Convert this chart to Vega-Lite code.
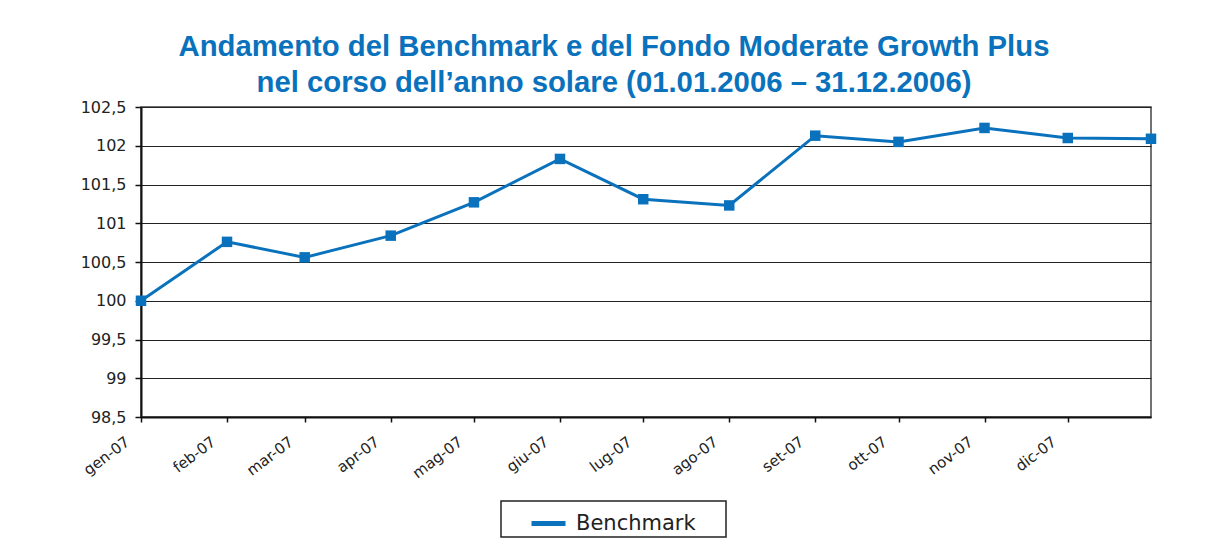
{
  "$schema": "https://vega.github.io/schema/vega-lite/v6.json",
  "width": 1010,
  "height": 310,
  "autosize": {"type": "none"},
  "padding": {"left": 141, "top": 107, "right": 57, "bottom": 135},
  "background": "white",
  "title": {
    "text": ["Andamento del Benchmark e del Fondo Moderate Growth Plus", "nel corso dell’anno solare (01.01.2006 – 31.12.2006)"],
    "anchor": "middle",
    "frame": "group",
    "dx": -32,
    "offset": 1,
    "font": "Liberation Sans",
    "fontSize": 29.3,
    "fontWeight": "bold",
    "lineHeight": 36,
    "color": "#0A72BC"
  },
  "data": {
    "values": [
      {"date": "2007-01-01", "value": 100.0, "serie": "Benchmark"},
      {"date": "2007-02-01", "value": 100.76, "serie": "Benchmark"},
      {"date": "2007-03-01", "value": 100.56, "serie": "Benchmark"},
      {"date": "2007-04-01", "value": 100.84, "serie": "Benchmark"},
      {"date": "2007-05-01", "value": 101.27, "serie": "Benchmark"},
      {"date": "2007-06-01", "value": 101.83, "serie": "Benchmark"},
      {"date": "2007-07-01", "value": 101.31, "serie": "Benchmark"},
      {"date": "2007-08-01", "value": 101.23, "serie": "Benchmark"},
      {"date": "2007-09-01", "value": 102.13, "serie": "Benchmark"},
      {"date": "2007-10-01", "value": 102.05, "serie": "Benchmark"},
      {"date": "2007-11-01", "value": 102.23, "serie": "Benchmark"},
      {"date": "2007-12-01", "value": 102.1, "serie": "Benchmark"},
      {"date": "2007-12-31", "value": 102.09, "serie": "Benchmark"}
    ]
  },
  "mark": {
    "type": "line",
    "strokeWidth": 3,
    "point": {"shape": "square", "size": 110, "filled": true, "opacity": 1}
  },
  "encoding": {
    "x": {
      "field": "date",
      "type": "temporal",
      "scale": {"type": "utc", "domain": [{"year": 2007, "month": 1, "date": 1, "utc": true}, {"year": 2007, "month": 12, "date": 31, "utc": true}], "nice": false},
      "axis": {
        "title": null,
        "grid": false,
        "values": [
          {"year": 2007, "month": 1, "date": 1, "utc": true},
          {"year": 2007, "month": 2, "date": 1, "utc": true},
          {"year": 2007, "month": 3, "date": 1, "utc": true},
          {"year": 2007, "month": 4, "date": 1, "utc": true},
          {"year": 2007, "month": 5, "date": 1, "utc": true},
          {"year": 2007, "month": 6, "date": 1, "utc": true},
          {"year": 2007, "month": 7, "date": 1, "utc": true},
          {"year": 2007, "month": 8, "date": 1, "utc": true},
          {"year": 2007, "month": 9, "date": 1, "utc": true},
          {"year": 2007, "month": 10, "date": 1, "utc": true},
          {"year": 2007, "month": 11, "date": 1, "utc": true},
          {"year": 2007, "month": 12, "date": 1, "utc": true}
        ],
        "labelExpr": "['gen','feb','mar','apr','mag','giu','lug','ago','set','ott','nov','dic'][utcmonth(datum.value)] + '-07'",
        "labelAngle": -37,
        "labelAlign": "right",
        "labelBaseline": "top",
        "labelFont": "DejaVu Sans",
        "labelFontSize": 15,
        "labelColor": "#222222",
        "labelPadding": 12,
        "labelOffset": -18,
        "labelOverlap": false,
        "labelFlush": false,
        "domainColor": "#111111",
        "domainWidth": 2,
        "tickColor": "#111111",
        "tickSize": 5,
        "tickWidth": 1.5
      }
    },
    "y": {
      "field": "value",
      "type": "quantitative",
      "scale": {"domain": [98.5, 102.5], "nice": false, "zero": false},
      "axis": {
        "title": null,
        "values": [98.5, 99, 99.5, 100, 100.5, 101, 101.5, 102, 102.5],
        "labelExpr": "replace(format(datum.value, '.1~f'), '.', ',')",
        "labelFont": "DejaVu Sans",
        "labelFontSize": 16,
        "labelColor": "#222222",
        "labelPadding": 9,
        "gridColor": "#222222",
        "gridWidth": 1.2,
        "gridOpacity": 1,
        "domainColor": "#111111",
        "domainWidth": 2,
        "tickColor": "#111111",
        "tickSize": 6,
        "tickWidth": 1.5
      }
    },
    "color": {
      "field": "serie",
      "type": "nominal",
      "scale": {"range": ["#0A72BC"]},
      "legend": {
        "title": "\u00a0",
        "titleOrient": "right",
        "titlePadding": 27,
        "titleFontSize": 21,
        "orient": "none",
        "legendX": 360,
        "legendY": 394,
        "direction": "horizontal",
        "symbolType": "stroke",
        "symbolSize": 1156,
        "symbolStrokeWidth": 5,
        "symbolOffset": 25,
        "labelFont": "DejaVu Sans",
        "labelFontSize": 21,
        "labelColor": "#222222",
        "labelOffset": 8,
        "strokeColor": "#222222",
        "padding": 3,
        "fillColor": "white",
        "encode": {"legend": {"update": {"strokeWidth": {"value": 1.5}}}}
      }
    }
  },
  "config": {
    "view": {"stroke": "#444444", "strokeWidth": 1.5},
    "legend": {"symbolStrokeColor": "#0A72BC"}
  }
}
